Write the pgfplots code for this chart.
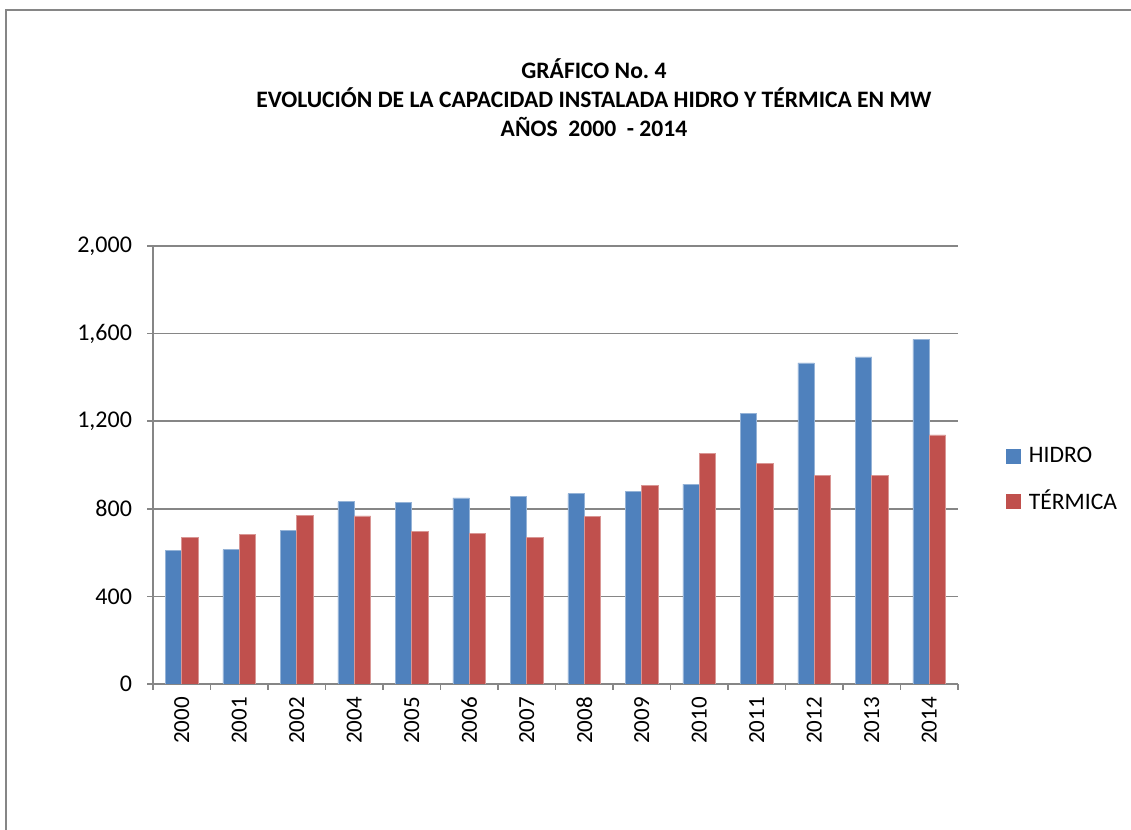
\documentclass[border=0pt]{standalone}
\usepackage{pgfplots}
\pgfplotsset{compat=1.18}
\usepackage{pgfplotstable}
\usepackage{fontspec}
\setmainfont{Carlito}
\frenchspacing
\definecolor{hidro}{HTML}{4F81BD}
\definecolor{termica}{HTML}{C0504D}
\definecolor{gridc}{HTML}{868686}
\pgfplotstableread{
x hidro termica
0 611 671
1 613 684
2 700 770
3 832 768
4 831 695
5 850 687
6 856 671
7 869 767
8 879 908
9 913 1052
10 1236 1007
11 1466 953
12 1494 953
13 1574 1137
}\datatable
\begin{document}
\begin{tikzpicture}
\useasboundingbox (0pt,0pt) rectangle (565.5pt,415pt);
\draw[gridc, line width=0.8pt] (3pt,0pt) -- (3pt,410pt) -- (565.5pt,410pt);
\node[font=\bfseries\fontsize{11.8}{14}\selectfont, anchor=base] at (297pt,375.5pt) {GRÁFICO No.\ 4};
\node[font=\bfseries\fontsize{11.8}{14}\selectfont, anchor=base] at (297pt,361pt) {EVOLUCIÓN DE LA CAPACIDAD INSTALADA HIDRO Y TÉRMICA EN MW};
\node[font=\bfseries\fontsize{11.8}{14}\selectfont, anchor=base] at (297pt,346.5pt) {AÑOS\ \ 2000\ \ - 2014};
\begin{axis}[
  at={(76.5pt,73pt)}, anchor=south west,
  scale only axis, width=402.5pt, height=219pt,
  ybar=0pt, bar width=8.15pt,
  xmin=-0.5, xmax=13.5, ymin=0, ymax=2000,
  axis lines=left, axis line style={-, gridc, line width=0.8pt},
  ytick={0,400,800,1200,1600,2000},
  ymajorgrids=true, grid style={gridc, line width=0.8pt},
  xtick=data,
  xticklabels={2000,2001,2002,2004,2005,2006,2007,2008,2009,2010,2011,2012,2013,2014},
  major x tick style={draw=none},
  minor xtick={-0.5,0.5,...,13.5},
  minor x tick style={gridc, line width=0.8pt},
  y tick style={gridc, line width=0.8pt},
  tick align=outside, major tick length=3pt, minor tick length=3pt,
  x tick label style={rotate=90, anchor=east, font=\fontsize{11.5}{13}\selectfont},
  y tick label style={font=\fontsize{12}{14}\selectfont, xshift=-4pt},
  /pgf/number format/assume math mode=true,
  /pgf/number format/1000 sep={,},
  scaled y ticks=false,
  legend style={draw=none, fill=none, at={(1.052,0.466)}, anchor=west,
     font=\fontsize{11.8}{13}\selectfont, row sep=8pt, cells={anchor=west}},
]
\addplot[fill=hidro, draw=hidro!60!white, line width=0.3pt,
  legend image code/.code={\fill[hidro] (0pt,-3.5pt) rectangle (7pt,3.5pt); \path (9pt,0pt);}]
  table[x=x, y=hidro] {\datatable};
\addlegendentry{HIDRO}
\addplot[fill=termica, draw=termica!60!white, line width=0.3pt,
  legend image code/.code={\fill[termica] (0pt,-3.5pt) rectangle (7pt,3.5pt); \path (9pt,0pt);}]
  table[x=x, y=termica] {\datatable};
\addlegendentry{TÉRMICA}
\end{axis}
\end{tikzpicture}
\end{document}
